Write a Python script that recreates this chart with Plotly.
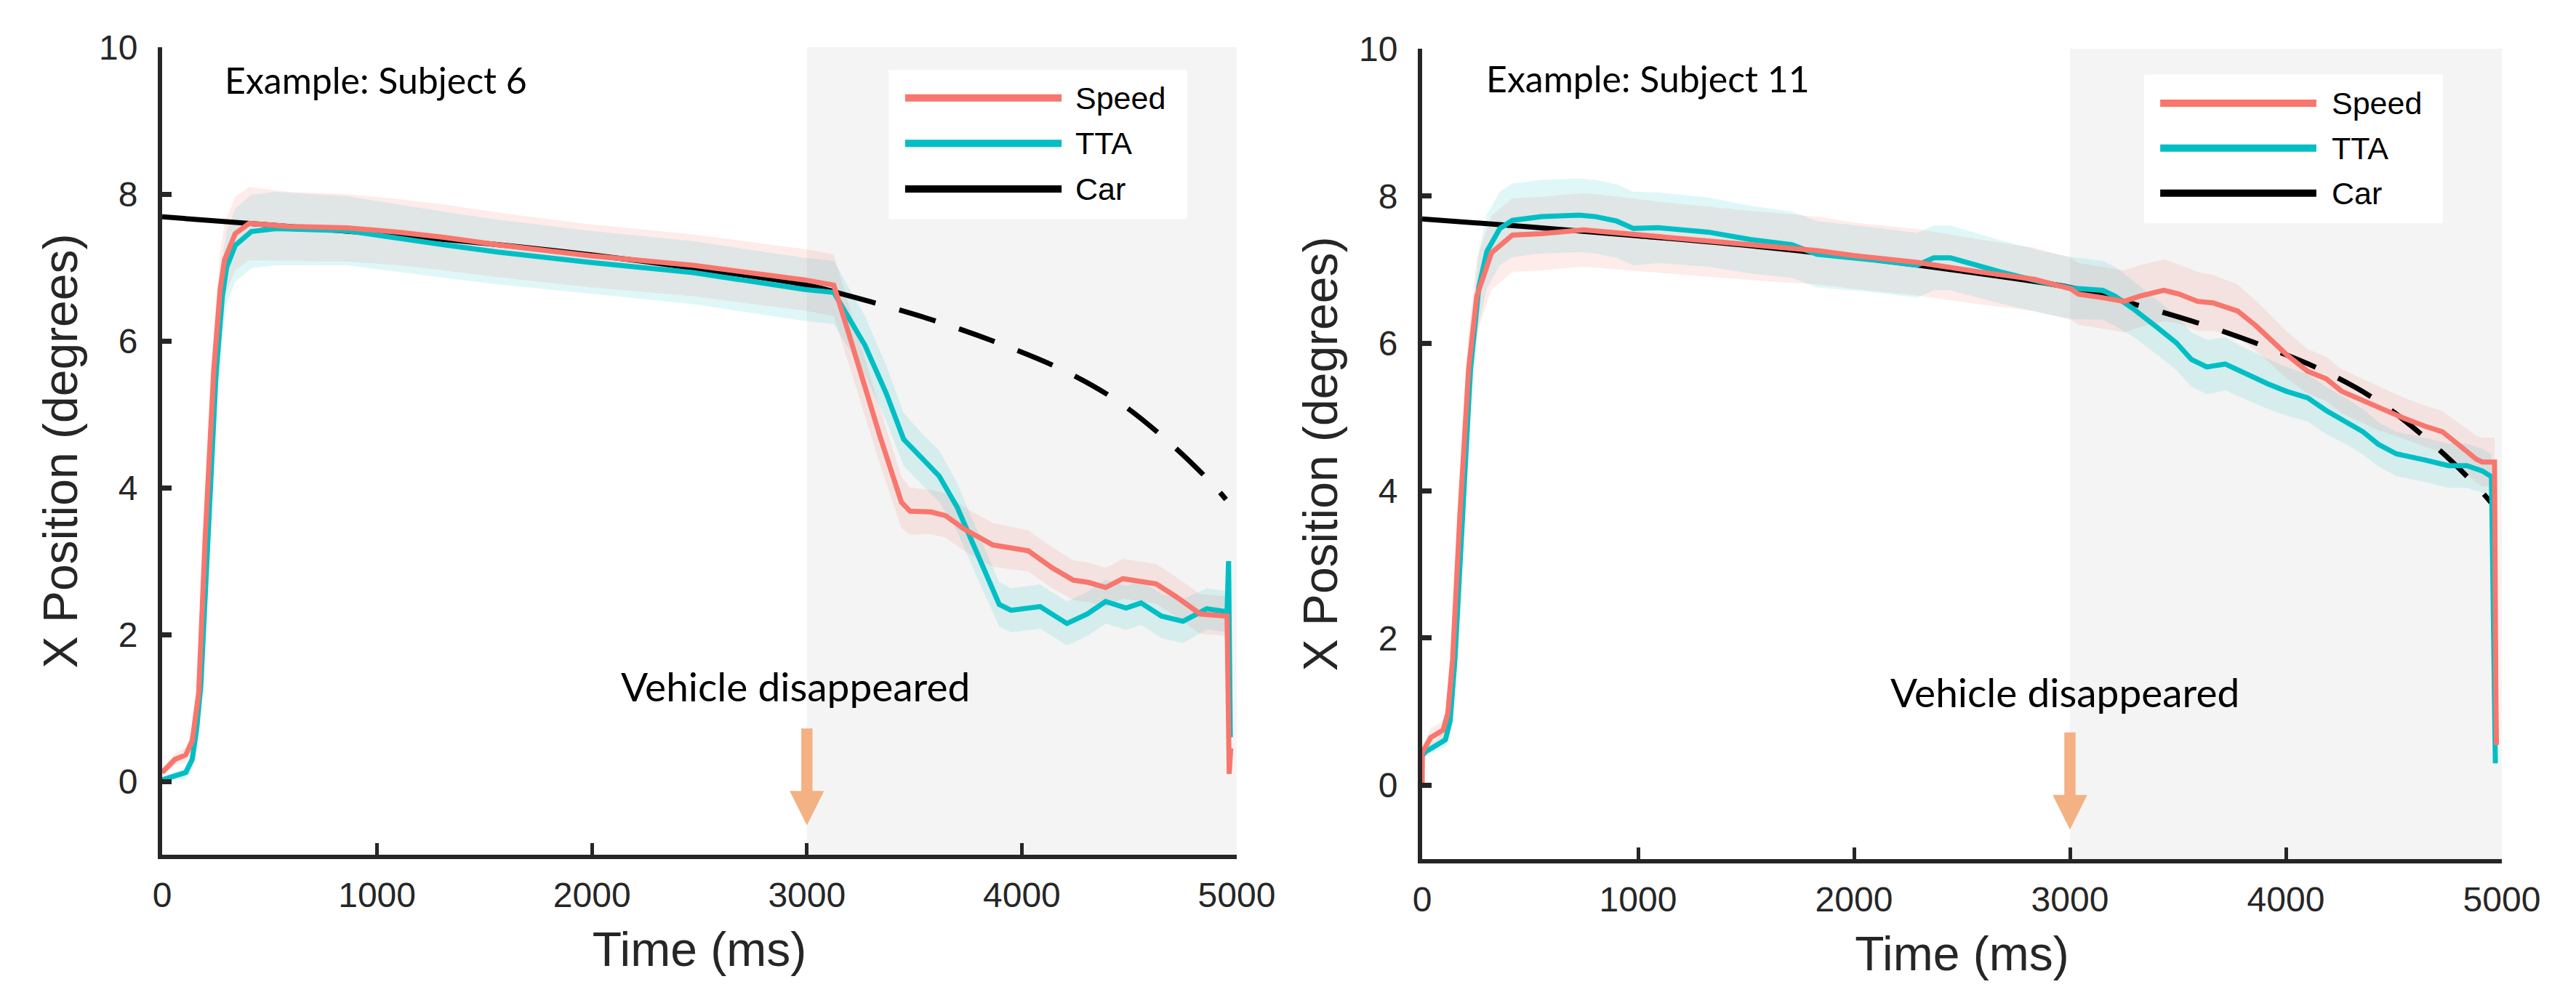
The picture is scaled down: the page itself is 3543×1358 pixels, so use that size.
import numpy as np
import plotly.graph_objects as go

# ---------------- data ----------------
# Subject 6 (left panel)
s6_speed_t = [0, 60, 110, 140, 170, 200, 240, 270, 290, 340,
              405, 500, 590, 860, 1100, 1310, 1560, 1990, 2470, 2990,
              3125, 3200, 3340, 3440, 3480, 3575, 3645, 3730, 3865, 4030,
              4140, 4240, 4310, 4390, 4470, 4625, 4720, 4830, 4955, 4965, 4972]
s6_speed_v = [0.12, 0.30, 0.36, 0.55, 1.2, 3.3, 5.6, 6.7, 7.1, 7.46,
              7.60, 7.58, 7.56, 7.54, 7.48, 7.41, 7.31, 7.16, 7.03, 6.83,
              6.76, 6.05, 4.70, 3.80, 3.68, 3.67, 3.62, 3.44, 3.22, 3.14,
              2.91, 2.74, 2.71, 2.64, 2.76, 2.69, 2.51, 2.28, 2.25, 0.1, 0.45]
s6_speed_err = [0.05, 0.08, 0.1, 0.15, 0.3, 0.45, 0.5, 0.5, 0.5, 0.5,
                0.5, 0.48, 0.47, 0.46, 0.45, 0.45, 0.44, 0.43, 0.42, 0.42,
                0.42, 0.4, 0.38, 0.35, 0.32, 0.3, 0.3, 0.3, 0.3, 0.28,
                0.28, 0.27, 0.27, 0.27, 0.27, 0.27, 0.27, 0.27, 0.27, 0.1, 0.1]

s6_tta_t = [0, 60, 110, 140, 160, 180, 210, 250, 280, 300,
            340, 415, 530, 860, 1310, 1560, 1990, 2470, 2990, 3125,
            3270, 3370, 3450, 3535, 3615, 3700, 3785, 3895, 3950, 4085,
            4210, 4305, 4390, 4485, 4555, 4650, 4750, 4860, 4955, 4962, 4970]
s6_tta_v = [0.02, 0.07, 0.12, 0.30, 0.7, 1.3, 3.2, 5.5, 6.6, 7.0,
            7.3, 7.49, 7.53, 7.50, 7.31, 7.21, 7.07, 6.93, 6.70, 6.66,
            5.94, 5.28, 4.66, 4.39, 4.16, 3.73, 3.14, 2.41, 2.33, 2.38,
            2.15, 2.28, 2.45, 2.36, 2.43, 2.25, 2.18, 2.35, 2.31, 3.0, 0.6]
s6_tta_err = [0.03, 0.05, 0.08, 0.15, 0.3, 0.4, 0.45, 0.5, 0.5, 0.5,
              0.5, 0.5, 0.5, 0.47, 0.45, 0.44, 0.43, 0.43, 0.43, 0.43,
              0.4, 0.38, 0.36, 0.35, 0.35, 0.33, 0.32, 0.3, 0.3, 0.3,
              0.3, 0.3, 0.3, 0.3, 0.3, 0.3, 0.3, 0.28, 0.28, 0.1, 0.1]

# Subject 11 (right panel)
s11_speed_t = [0, 1, 40, 97, 119, 141, 175, 215, 253, 321,
               418, 553, 746, 824, 1132, 1519, 1828, 2002, 2292, 2582,
               2834, 3004, 3039, 3152, 3251, 3322, 3434, 3505, 3591, 3662,
               3776, 3861, 4002, 4101, 4186, 4258, 4357, 4428, 4541, 4640,
               4725, 4810, 4881, 4909, 4966, 4972, 4975]
s11_speed_v = [0.0, 0.45, 0.65, 0.75, 0.98, 1.71, 3.68, 5.65, 6.64, 7.23,
               7.47, 7.49, 7.54, 7.52, 7.43, 7.33, 7.26, 7.19, 7.10, 6.97,
               6.87, 6.74, 6.67, 6.62, 6.57, 6.64, 6.72, 6.67, 6.57, 6.55,
               6.44, 6.24, 5.85, 5.62, 5.52, 5.35, 5.22, 5.12, 4.99, 4.88,
               4.80, 4.60, 4.43, 4.39, 4.39, 1.3, 0.55]
s11_speed_err = [0.02, 0.1, 0.12, 0.12, 0.15, 0.25, 0.4, 0.5, 0.5, 0.5,
                 0.5, 0.5, 0.5, 0.5, 0.48, 0.47, 0.46, 0.45, 0.45, 0.44,
                 0.43, 0.42, 0.42, 0.42, 0.42, 0.42, 0.42, 0.4, 0.4, 0.38,
                 0.36, 0.34, 0.32, 0.3, 0.3, 0.3, 0.3, 0.3, 0.28, 0.28,
                 0.28, 0.3, 0.32, 0.33, 0.33, 0.1, 0.1]

s11_tta_t = [0, 17, 63, 108, 130, 152, 190, 224, 263, 300,
             360, 418, 553, 727, 804, 901, 978, 1094, 1326, 1519,
             1712, 1828, 2099, 2292, 2369, 2447, 2679, 2872, 3011, 3152,
             3209, 3293, 3407, 3492, 3563, 3634, 3719, 3790, 3917, 4002,
             4101, 4186, 4286, 4357, 4428, 4512, 4640, 4753, 4838, 4909,
             4952, 4960, 4970]
s11_tta_v = [0.40, 0.46, 0.54, 0.62, 0.88, 1.71, 3.8, 5.65, 6.77, 7.25,
             7.56, 7.67, 7.72, 7.74, 7.72, 7.66, 7.56, 7.57, 7.51, 7.41,
             7.34, 7.21, 7.13, 7.06, 7.16, 7.16, 6.97, 6.83, 6.75, 6.72,
             6.64, 6.47, 6.21, 6.01, 5.78, 5.68, 5.72, 5.62, 5.45, 5.35,
             5.26, 5.09, 4.93, 4.80, 4.63, 4.50, 4.42, 4.34, 4.34, 4.27,
             4.19, 2.3, 0.3]
s11_tta_err = [0.03, 0.05, 0.08, 0.1, 0.12, 0.25, 0.4, 0.5, 0.5, 0.5,
               0.5, 0.5, 0.5, 0.5, 0.5, 0.5, 0.5, 0.48, 0.47, 0.46,
               0.45, 0.45, 0.44, 0.44, 0.44, 0.44, 0.43, 0.42, 0.42, 0.4,
               0.4, 0.38, 0.37, 0.37, 0.37, 0.37, 0.36, 0.35, 0.34, 0.33,
               0.32, 0.32, 0.31, 0.31, 0.3, 0.3, 0.3, 0.3, 0.3, 0.3,
               0.3, 0.1, 0.1]

# Car trajectory (same in both panels); solid while visible, dashed after
car_t = [0, 500, 1000, 1500, 2000, 2500, 3000, 3150, 3300, 3600,
         3900, 4200, 4450, 4700, 4880, 4950]
car_v = [7.69, 7.58, 7.46, 7.33, 7.17, 6.98, 6.76, 6.65, 6.53, 6.27,
         5.96, 5.59, 5.17, 4.58, 4.07, 3.84]
car_visible_until = 3150

x_ticks = [0, 1000, 2000, 3000, 4000, 5000]
y_ticks = [0, 2, 4, 6, 8, 10]
legend_names = ["Speed", "TTA", "Car"]
panel_titles = ["Example: Subject 6", "Example: Subject 11"]
event_label = "Vehicle disappeared"
event_time = 3000
hidden_end = 5000

# ---------------- styling ----------------
RED = "#F8766D"
TEAL = "#00BFC4"
PINK_FILL = "rgba(248,118,109,0.14)"
CYAN_FILL = "rgba(0,191,196,0.12)"
AX = "#262626"
ARROW = "#F4B183"
SHADE = "#F4F4F4"
FONT = "Liberation Sans, Arial, sans-serif"
NOTE_FONT = "Lato, sans-serif"

fig = go.Figure()


def band(t, v, e, color, xa, ya):
    t = np.asarray(t, float)
    v = np.asarray(v, float)
    e = np.asarray(e, float)
    fig.add_trace(go.Scatter(
        x=np.concatenate([t, t[::-1]]),
        y=np.concatenate([v + e, (v - e)[::-1]]),
        fill="toself", fillcolor=color, mode="lines", line=dict(width=0),
        hoverinfo="skip", showlegend=False, xaxis=xa, yaxis=ya))


panels = [
    ("x", "y", s6_speed_t, s6_speed_v, s6_speed_err, s6_tta_t, s6_tta_v, s6_tta_err),
    ("x2", "y2", s11_speed_t, s11_speed_v, s11_speed_err, s11_tta_t, s11_tta_v, s11_tta_err),
]

car_t_arr = np.array(car_t)
car_v_arr = np.array(car_v)
solid = car_t_arr <= car_visible_until
dashed = car_t_arr >= car_visible_until

for xa, ya, sp_t, sp_v, sp_e, tt_t, tt_v, tt_e in panels:
    band(sp_t, sp_v, sp_e, PINK_FILL, xa, ya)
    band(tt_t, tt_v, tt_e, CYAN_FILL, xa, ya)
    fig.add_trace(go.Scatter(x=car_t_arr[solid], y=car_v_arr[solid], mode="lines",
                             line=dict(color="black", width=7, shape="spline"),
                             name="Car", showlegend=False, xaxis=xa, yaxis=ya))
    fig.add_trace(go.Scatter(x=car_t_arr[dashed], y=car_v_arr[dashed], mode="lines",
                             line=dict(color="black", width=7, dash="52px,34px", shape="spline"),
                             name="Car", showlegend=False, xaxis=xa, yaxis=ya))
    fig.add_trace(go.Scatter(x=tt_t, y=tt_v, mode="lines",
                             line=dict(color=TEAL, width=7),
                             name="TTA", showlegend=False, xaxis=xa, yaxis=ya))
    fig.add_trace(go.Scatter(x=sp_t, y=sp_v, mode="lines",
                             line=dict(color=RED, width=7),
                             name="Speed", showlegend=False, xaxis=xa, yaxis=ya))

shapes = []
annotations = []
# per-panel decoration positions
deco = [
    ("x", "y", 3380, 4770, 7.66, 9.69, 3457, 4185, 4242, [9.31, 8.69, 8.07], 283, 9.55, 2945, 1.30),
    ("x2", "y2", 3343, 4727, 7.63, 9.65, 3418, 4141, 4205, [9.26, 8.65, 8.04], 290, 9.60, 2975, 1.27),
]
for i, (xr, yr, bx0, bx1, by0, by1, lx0, lx1, tx, rows, ttx, tty, lbx, lby) in enumerate(deco):
    # hidden-vehicle shading
    shapes.append(dict(type="rect", xref=xr, yref=yr, x0=event_time, x1=hidden_end, y0=-1, y1=10,
                       fillcolor=SHADE, line=dict(width=0), layer="below"))
    # arrow (shaft + head)
    shapes.append(dict(type="rect", xref=xr, yref=yr, x0=event_time - 26, x1=event_time + 26,
                       y0=-0.14, y1=0.72, fillcolor=ARROW, line=dict(width=0), layer="above"))
    shapes.append(dict(type="path", xref=xr, yref=yr,
                       path=f"M {event_time-80},-0.13 L {event_time+80},-0.13 L {event_time},-0.60 Z",
                       fillcolor=ARROW, line=dict(width=0), layer="above"))
    # legend box
    shapes.append(dict(type="rect", xref=xr, yref=yr, x0=bx0, x1=bx1, y0=by0, y1=by1,
                       fillcolor="white", line=dict(width=0), layer="above"))
    for name, col, ry in zip(legend_names, [RED, TEAL, "black"], rows):
        shapes.append(dict(type="line", xref=xr, yref=yr, x0=lx0, x1=lx1, y0=ry, y1=ry,
                           line=dict(color=col, width=10), layer="above"))
        annotations.append(dict(xref=xr, yref=yr, x=tx, y=ry, text=name, showarrow=False,
                                xanchor="left", yanchor="middle",
                                font=dict(family=FONT, size=43, color="black")))
    annotations.append(dict(xref=xr, yref=yr, x=ttx, y=tty, text=panel_titles[i], showarrow=False,
                            xanchor="left", yanchor="middle",
                            font=dict(family=NOTE_FONT, size=50, color="black")))
    annotations.append(dict(xref=xr, yref=yr, x=lbx, y=lby, text=event_label, showarrow=False,
                            xanchor="center", yanchor="middle",
                            font=dict(family=NOTE_FONT, size=55, color="black")))

W, H = 3543, 1358


def xaxis(dom, anchor):
    return dict(domain=dom, anchor=anchor, range=[0, 5000], tickvals=x_ticks,
                ticks="inside", ticklen=16, tickwidth=5, tickcolor=AX,
                showline=True, linewidth=6, linecolor=AX, mirror=False,
                showgrid=False, zeroline=False, ticklabelstandoff=8,
                tickfont=dict(family=FONT, size=48, color=AX),
                title=dict(text="Time (ms)", standoff=28, font=dict(family=FONT, size=66, color=AX)),
                automargin=False)


def yaxis(dom, anchor):
    return dict(domain=dom, anchor=anchor, range=[-1, 10], tickvals=y_ticks,
                ticks="inside", ticklen=13, tickwidth=7, tickcolor=AX,
                showline=True, linewidth=6, linecolor=AX,
                showgrid=False, zeroline=False, ticklabelstandoff=18,
                tickfont=dict(family=FONT, size=48, color=AX),
                title=dict(text="X Position (degrees)", standoff=10, font=dict(family=FONT, size=66, color=AX)),
                automargin=False)


fig.update_layout(
    width=W, height=H,
    margin=dict(l=0, r=0, t=0, b=0),
    paper_bgcolor="white", plot_bgcolor="white",
    showlegend=False,
    xaxis=xaxis([215 / W, 1693 / W], "y"),
    yaxis=yaxis([1 - 1168 / H, 1 - 57 / H], "x"),
    xaxis2=xaxis([1948 / W, 3433 / W], "y2"),
    yaxis2=yaxis([1 - 1174 / H, 1 - 59 / H], "x2"),
    shapes=shapes,
    annotations=annotations,
)

fig.write_html("out.html")
